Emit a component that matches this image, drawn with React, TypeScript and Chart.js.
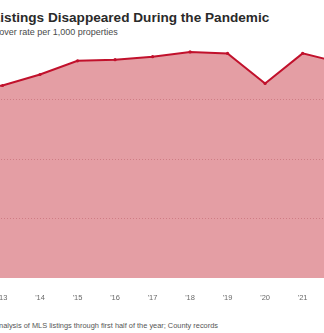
import React, { useEffect, useRef } from "react";
import { Chart, registerables } from "chart.js";

Chart.register(...registerables);

const years = ["'12", "'13", "'14", "'15", "'16", "'17", "'18", "'19", "'20", "'21", "'22"];
const turnoverRate = [63.5, 64.7, 68.4, 73.0, 73.4, 74.4, 76.0, 75.5, 65.4, 75.5, 72.4];
const yTicks = [0, 20, 40, 60];
const titleText = "Listings Disappeared During the Pandemic";
const subtitleText = "Turnover rate per 1,000 properties";
const sourceText = "Source: Analysis of MLS listings through first half of the year; County records";

const FONT = "'Liberation Sans', Arial, Helvetica, sans-serif";

export default function App() {
  const ref = useRef<HTMLCanvasElement | null>(null);

  useEffect(() => {
    if (!ref.current) return;
    const chart = new Chart(ref.current, {
      type: "line",
      data: {
        labels: years,
        datasets: [
          {
            data: turnoverRate,
            borderColor: "#c1112c",
            borderWidth: 2,
            backgroundColor: "#e49ea4",
            fill: "origin",
            pointRadius: 1.6,
            pointBackgroundColor: "#c1112c",
            pointBorderWidth: 0,
            tension: 0,
          },
        ],
      },
      options: {
        animation: false,
        responsive: false,
        maintainAspectRatio: false,
        layout: { padding: { top: 40, right: 18, left: 0, bottom: 0 } },
        plugins: { legend: { display: false }, tooltip: { enabled: false } },
        scales: {
          x: {
            offset: false,
            grid: { display: false, drawTicks: false },
            border: { display: false },
            ticks: {
              color: "#6a6a6a",
              font: { size: 7.5, family: FONT },
              padding: 15,
              maxRotation: 0,
              autoSkip: false,
            },
            afterFit: (s: any) => {
              s.height = 32;
            },
          },
          y: {
            min: 0,
            max: 80,
            afterBuildTicks: (s: any) => {
              s.ticks = yTicks.map((v) => ({ value: v }));
            },
            grid: {
              z: 1,
              drawTicks: false,
              lineWidth: 1,
              color: (ctx: any) =>
                ctx.tick && ctx.tick.value === 0 ? "rgba(255,255,255,0.65)" : "rgba(170,60,75,0.35)",
            },
            border: { display: false, dash: [1, 2] },
            ticks: { color: "#6a6a6a", font: { size: 7.5, family: FONT }, padding: 4 },
            afterFit: (s: any) => {
              s.width = 45;
            },
          },
        },
      },
    });
    return () => chart.destroy();
  }, []);

  return (
    <div
      style={{
        position: "fixed",
        left: 0,
        top: 0,
        width: 324,
        height: 333,
        overflow: "hidden",
        background: "#fff",
        fontFamily: FONT,
      }}
    >
      <div
        style={{
          position: "absolute",
          left: -8,
          top: 11,
          fontSize: 13.6,
          lineHeight: 1,
          fontWeight: "bold",
          color: "#2a2a2a",
          whiteSpace: "nowrap",
        }}
      >
        {titleText}
      </div>
      <div
        style={{
          position: "absolute",
          left: -19,
          top: 27.7,
          fontSize: 9,
          lineHeight: 1,
          color: "#4a4a4a",
          whiteSpace: "nowrap",
        }}
      >
        {subtitleText}
      </div>
      <canvas
        ref={ref}
        width={440}
        height={310}
        style={{ position: "absolute", left: -80, top: 0, width: 440, height: 310 }}
      />
      <div
        style={{
          position: "absolute",
          left: -33,
          top: 322.2,
          fontSize: 7.4,
          lineHeight: 1,
          color: "#555",
          whiteSpace: "nowrap",
        }}
      >
        {sourceText}
      </div>
    </div>
  );
}
